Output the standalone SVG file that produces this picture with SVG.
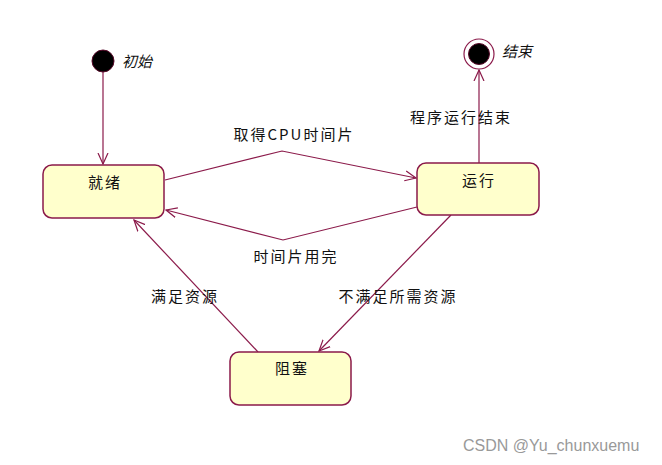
<svg xmlns="http://www.w3.org/2000/svg" width="662" height="465" viewBox="0 0 662 465">
<style>
.box{fill:#FFFFCC;stroke:#8B1A4A;stroke-width:1.5}
.ln{fill:none;stroke:#8B1A4A;stroke-width:1.2}
.t{font-family:"Noto Sans CJK SC","Liberation Sans",sans-serif;font-size:15px;fill:#111;letter-spacing:2px}
.it{font-family:"Noto Sans CJK SC","Liberation Sans",sans-serif;font-size:15px;fill:#111;font-style:italic}
.wm{font-family:"Liberation Sans",Arial,sans-serif;font-size:16px;fill:#999}
</style>
<defs>
<marker id="ar" viewBox="0 0 12 12" refX="11" refY="6" markerWidth="12" markerHeight="12" markerUnits="userSpaceOnUse" orient="auto">
<path d="M0,1 L11,6 L0,11" fill="none" stroke="#8B1A4A" stroke-width="1.2"/>
</marker>
</defs>
<rect width="662" height="465" fill="#fff"/>
<g id="connectors">
<line class="ln" x1="103" y1="72" x2="103" y2="164" marker-end="url(#ar)"/>
<line class="ln" x1="479" y1="163" x2="479" y2="70" marker-end="url(#ar)"/>
<polyline class="ln" points="165,180 282,151 416,178" marker-end="url(#ar)"/>
<polyline class="ln" points="417,207 283,240 166,210" marker-end="url(#ar)"/>
<line class="ln" x1="258" y1="352" x2="134" y2="220" marker-end="url(#ar)"/>
<line class="ln" x1="451" y1="215" x2="319" y2="351" marker-end="url(#ar)"/>
<text class="t" x="294" y="140" text-anchor="middle">取得CPU时间片</text>
<text class="t" x="296" y="262" text-anchor="middle">时间片用完</text>
<text class="t" x="185" y="302" text-anchor="middle">满足资源</text>
<text class="t" x="398" y="302" text-anchor="middle">不满足所需资源</text>
<text class="t" x="461" y="123" text-anchor="middle">程序运行结束</text>
</g>
<g id="start">
<circle cx="103" cy="61" r="11" fill="#000" stroke="#5a0a2a" stroke-width="1"/>
<text class="it" x="122" y="67">初始</text>
</g>
<g id="end">
<circle cx="479" cy="54" r="15" fill="#fff" stroke="#8B1A4A" stroke-width="1.2"/>
<circle cx="479" cy="54" r="10.5" fill="#000" stroke="#5a0a2a" stroke-width="1"/>
<text class="it" x="502" y="57">结束</text>
</g>
<g id="ready">
<rect class="box" x="43" y="165" width="121" height="53" rx="9"/>
<text class="t" x="105" y="188" text-anchor="middle">就绪</text>
</g>
<g id="running">
<rect class="box" x="417" y="163" width="122" height="52" rx="9"/>
<text class="t" x="479" y="186" text-anchor="middle">运行</text>
</g>
<g id="blocked">
<rect class="box" x="230" y="352" width="121" height="53" rx="9"/>
<text class="t" x="292" y="374" text-anchor="middle">阻塞</text>
</g>
<text class="wm" x="463" y="451">CSDN @Yu_chunxuemu</text>
</svg>
